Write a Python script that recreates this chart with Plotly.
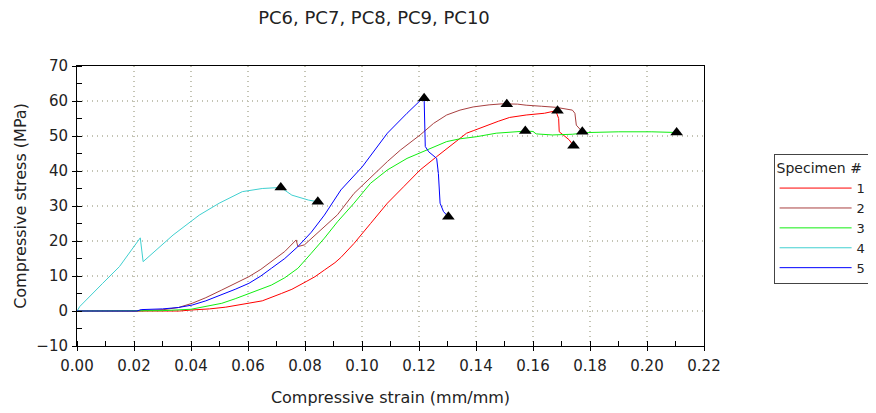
import plotly.graph_objects as go

# ---- data (strain mm/mm, stress MPa) ----
s1_x = [0, 0.036, 0.0404, 0.0465, 0.0522, 0.0603, 0.065, 0.0717, 0.0754, 0.0804, 0.0835, 0.0868,
        0.0905, 0.0926, 0.0972, 0.103, 0.1089, 0.1146, 0.1204, 0.1262, 0.132, 0.1367, 0.139, 0.1437,
        0.1478, 0.1518, 0.1576, 0.164, 0.168, 0.169, 0.1692, 0.1703, 0.1727, 0.1742]
s1_y = [0, 0, 0.3, 0.6, 1.1, 2.2, 2.9, 5.0, 6.2, 8.4, 9.8, 11.7,
        13.8, 15.3, 19.3, 25.0, 30.8, 35.5, 40.3, 44.1, 47.9, 50.8, 51.5, 53.0,
        54.2, 55.3, 56.0, 56.5, 57.2, 55.0, 51.2, 50.5, 48.9, 47.2]

s2_x = [0, 0.021, 0.0305, 0.0356, 0.0404, 0.0452, 0.0508, 0.0555, 0.0603, 0.0645, 0.0682, 0.0729,
        0.0769, 0.0775, 0.0798, 0.0856, 0.0914, 0.0972, 0.103, 0.1089, 0.1135, 0.1204, 0.1251,
        0.1297, 0.1344, 0.139, 0.1446, 0.1494, 0.1546, 0.1576, 0.163, 0.168, 0.1738, 0.1747,
        0.1752, 0.1761, 0.1773]
s2_y = [0, 0, 0.4, 1.0, 2.2, 3.8, 6.0, 7.8, 9.8, 11.9, 14.1, 17.0,
        20.3, 18.4, 18.9, 23.1, 27.5, 33.6, 38.2, 42.7, 46.0, 50.3, 53.6,
        56.0, 57.4, 58.3, 58.9, 59.2, 59.1, 58.8, 58.5, 58.2, 57.4, 56.5,
        53.1, 52.2, 51.2]

s3_x = [0, 0.021, 0.03, 0.04, 0.045, 0.0508, 0.0555, 0.0603, 0.0645, 0.0682, 0.0729, 0.0775,
        0.0822, 0.0868, 0.0914, 0.0972, 0.103, 0.1089, 0.1158, 0.1228, 0.1297, 0.1344, 0.1402,
        0.1471, 0.1529, 0.1573, 0.16, 0.1611, 0.1668, 0.1738, 0.1796, 0.1901, 0.2017, 0.2104]
s3_y = [0, 0, 0.1, 0.5, 1.2, 2.2, 3.5, 5.0, 6.1, 7.4, 9.5, 12.2,
        16.5, 20.8, 25.5, 30.8, 36.5, 40.3, 43.6, 46.0, 48.4, 49.2, 49.8,
        50.8, 51.2, 51.4, 51.3, 50.6, 50.3, 50.5, 51.0, 51.2, 51.2, 51.0]

s4_x = [0, 0.001, 0.009, 0.0149, 0.0222, 0.0232, 0.0337, 0.0429, 0.0499, 0.058, 0.065, 0.0715,
        0.0754, 0.0812, 0.0845]
s4_y = [0, 1.3, 7.9, 12.7, 20.9, 14.1, 21.7, 27.4, 30.8, 34.1, 35.0, 35.3,
        33.1, 31.7, 31.2]

s5_x = [0, 0.021, 0.0225, 0.03, 0.0356, 0.0404, 0.0452, 0.0508, 0.0555, 0.0603, 0.0645, 0.0682,
        0.0729, 0.0775, 0.0822, 0.0868, 0.0926, 0.1001, 0.1089, 0.1158, 0.1204, 0.1218, 0.1222,
        0.1234, 0.1262, 0.1268, 0.1274, 0.1286, 0.1303]
s5_y = [0, 0, 0.4, 0.6, 1.0, 1.7, 2.9, 4.6, 6.2, 7.9, 10.0, 12.2,
        15.0, 18.4, 22.5, 27.4, 34.6, 41.2, 50.8, 56.5, 60.1, 60.8, 47.0,
        45.5, 43.6, 39.3, 30.8, 28.4, 26.9]

peak_x = [0.1686, 0.1508, 0.1573, 0.0715, 0.1218]
peak_y = [57.2, 59.1, 51.4, 35.3, 60.8]
break_x = [0.1742, 0.1773, 0.2104, 0.0845, 0.1303]
break_y = [47.2, 51.2, 51.0, 31.2, 26.9]

names = ["1", "2", "3", "4", "5"]
colors = ["#FF0000", "#A84040", "#11EE11", "#40D0D0", "#0000FF"]
xs = [s1_x, s2_x, s3_x, s4_x, s5_x]
ys = [s1_y, s2_y, s3_y, s4_y, s5_y]

FONT = "DejaVu Sans"
W, H = 876, 413

fig = go.Figure()
for n, c, x, y in zip(names, colors, xs, ys):
    fig.add_trace(go.Scatter(x=x, y=y, mode="lines", name=n,
                             line=dict(color=c, width=1)))

fig.add_trace(go.Scatter(x=peak_x + break_x, y=peak_y + break_y, mode="markers",
                         marker=dict(symbol="triangle-up", size=11, color="black"),
                         showlegend=False, hoverinfo="skip"))

fig.update_layout(
    width=W, height=H,
    paper_bgcolor="white", plot_bgcolor="white",
    margin=dict(l=66, r=W - 66 - 632, t=58, b=H - 58 - 280),
    font=dict(family=FONT, size=15, color="#222222"),
    title=dict(text="PC6, PC7, PC8, PC9, PC10", x=366 / W, xanchor="center",
               y=1 - 10 / H, yanchor="middle", font=dict(size=18, color="#222222")),
    showlegend=True,
    legend=dict(title=dict(text="Specimen #", font=dict(size=14)),
                x=1.111, xanchor="left", y=0.686, yanchor="top",
                bordercolor="#444444", borderwidth=1, bgcolor="white",
                font=dict(size=13), tracegroupgap=0, itemwidth=72),
)

GRID = "#C4C4B4"
fig.update_xaxes(range=[0, 0.22], dtick=0.02, tick0=0, tickformat=".2f",
                 showline=True, linecolor="black", linewidth=1, mirror=True,
                 ticks="outside", ticklen=4, tickcolor="black",
                 minor=dict(dtick=0.01, ticks="inside", ticklen=5, tickcolor="black", showgrid=False),
                 showgrid=True, gridcolor=GRID, griddash="1px,4px", gridwidth=1.5,
                 zeroline=False, ticklabelstandoff=2,
                 title=dict(text="Compressive strain (mm/mm)", font=dict(size=16), standoff=17))
fig.update_yaxes(range=[-10, 70], dtick=10, tick0=0,
                 showline=True, linecolor="black", linewidth=1, mirror=True,
                 ticks="outside", ticklen=4, tickcolor="black",
                 minor=dict(dtick=5, ticks="inside", ticklen=5, tickcolor="black", showgrid=False),
                 showgrid=True, gridcolor=GRID, griddash="1px,4px", gridwidth=1.5,
                 zeroline=False, ticklabelstandoff=1,
                 title=dict(text="Compressive stress (MPa)", font=dict(size=16), standoff=5))

fig.write_html("out.html")
